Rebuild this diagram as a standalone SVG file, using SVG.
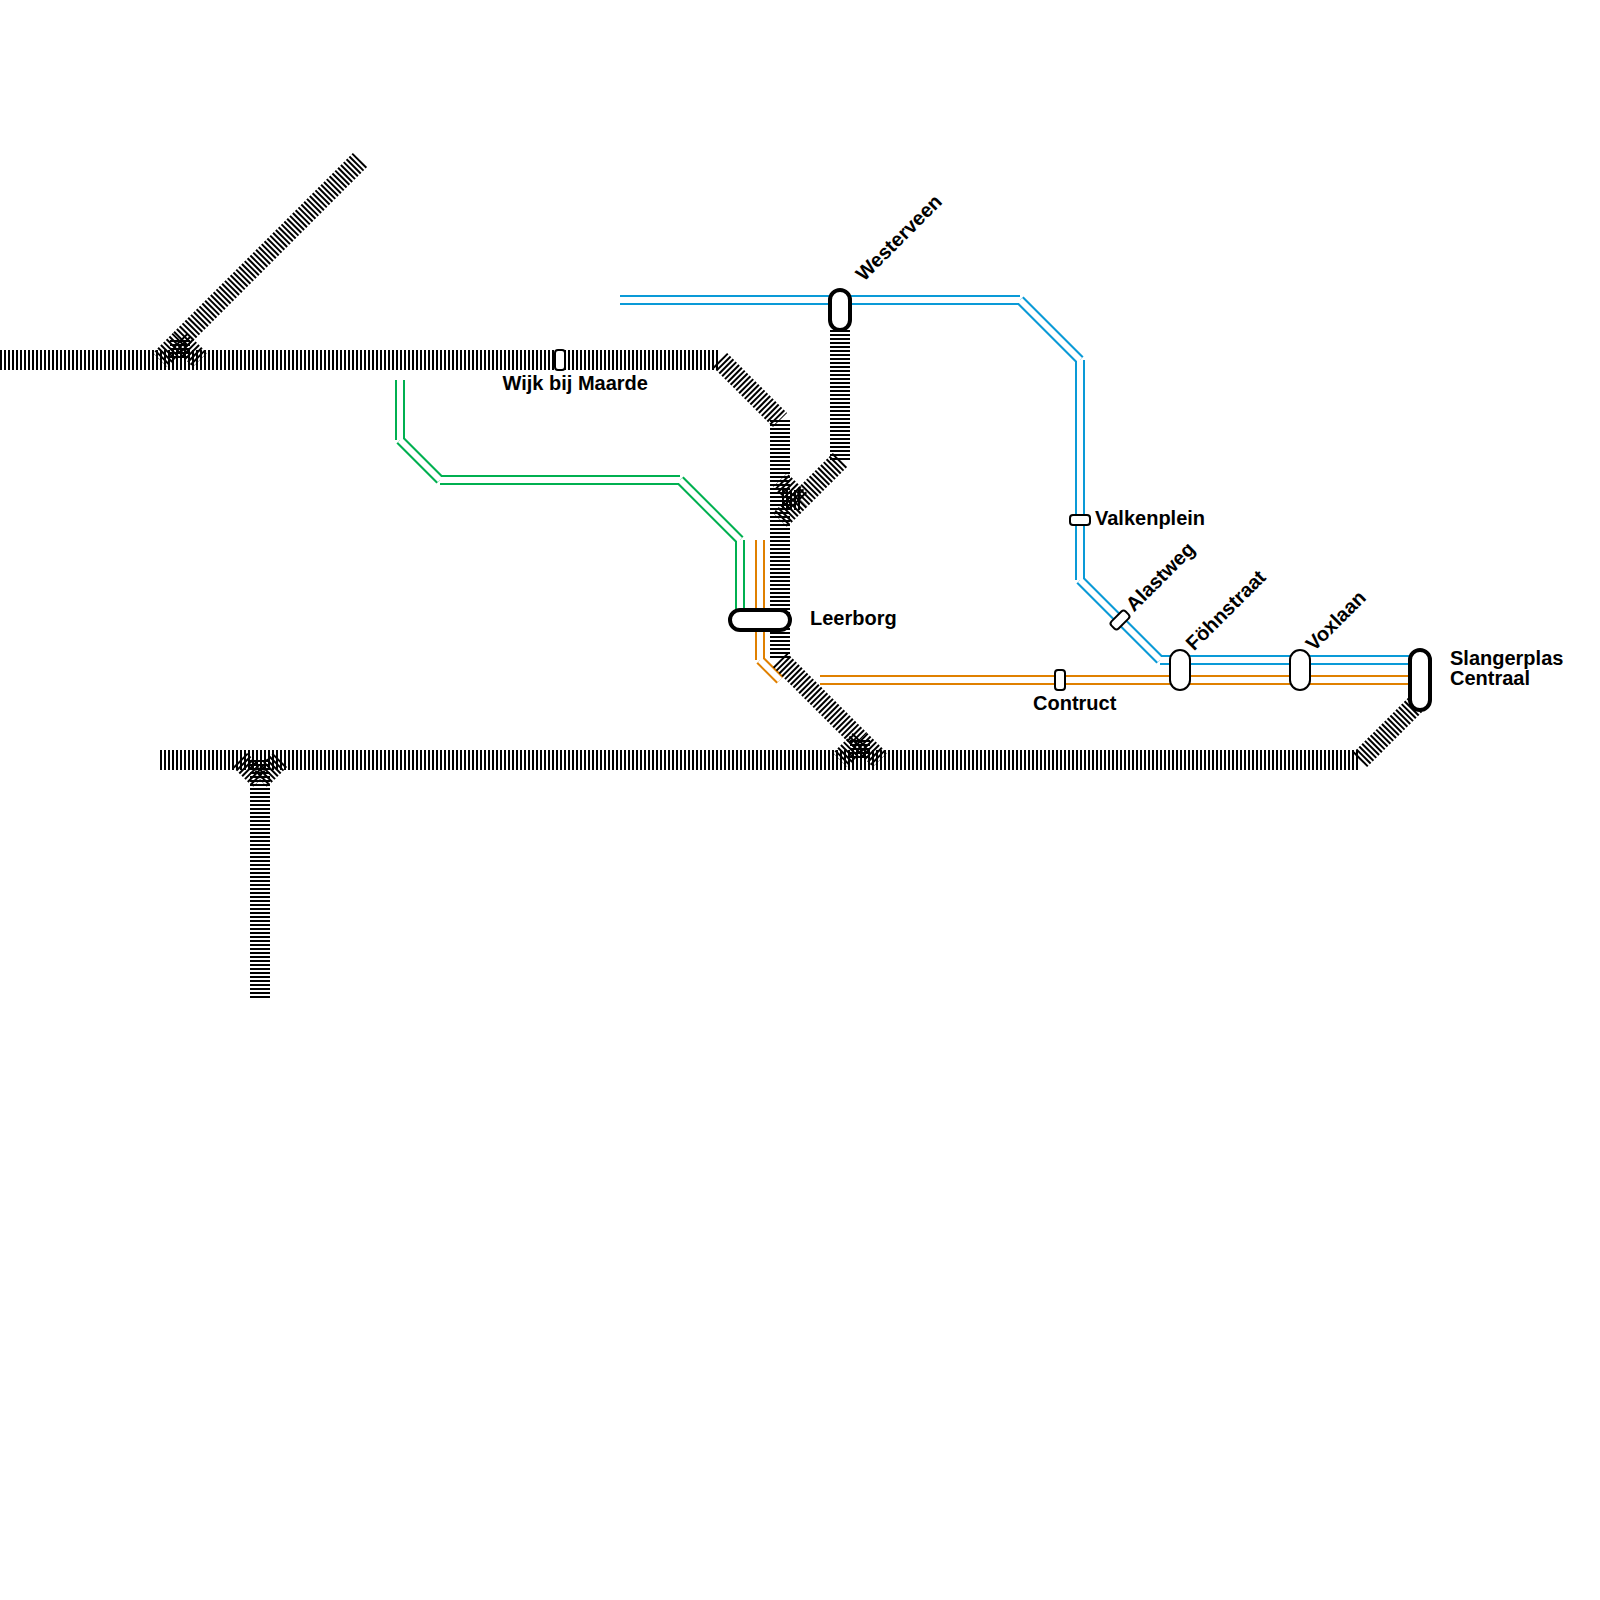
<svg xmlns="http://www.w3.org/2000/svg" width="1600" height="1600" viewBox="0 0 1600 1600">
<style>
.bk{fill:none;stroke:#000;stroke-width:20;stroke-dasharray:2 2}
.c{fill:none;stroke-width:10}
.w{fill:none;stroke:#fff;stroke-width:6}
.b{stroke:#0a9ad7}.g{stroke:#00b050}.o{stroke:#e08000}
.st{fill:#fff;stroke:#000;stroke-width:2}
.ic{fill:#fff;stroke:#000;stroke-width:4}
text{font-family:"Liberation Sans",Arial,sans-serif;font-weight:bold;font-size:20px;fill:#000}
</style>
<defs>
<g id="blue-c">
<path d="M620 300H1020"/><path d="M1020 300L1080 360"/><path d="M1080 360V580"/><path d="M1080 580L1160 660"/><path d="M1160 660H1420"/>
</g>
<g id="green-c">
<path d="M400 380V440"/><path d="M400 440L440 480"/><path d="M440 480H680"/><path d="M680 480L740 540"/><path d="M740 540V620"/>
</g>
<g id="orange-c">
<path d="M760 540V660"/><path d="M760 660L780 680"/><path d="M820 680H1420"/>
</g>
</defs>
<g id="connectors">
<use href="#green-c" class="c g"/><use href="#green-c" class="w"/>
<use href="#orange-c" class="c o"/><use href="#orange-c" class="w"/>
<use href="#blue-c" class="c b"/><use href="#blue-c" class="w"/>
<path class="bk" d="M0 360H718"/>
<path class="bk" d="M720 360L780 420"/>
<path class="bk" d="M360 160L180 340"/>
<path class="bk" d="M180 340L160 360"/>
<path class="bk" d="M180 340V360"/>
<path class="bk" d="M180 340L200 360"/>
<path class="bk" d="M780 420V660"/>
<path class="bk" d="M840 330V460"/>
<path class="bk" d="M840 460L800 500"/>
<path class="bk" d="M800 500L780 480"/>
<path class="bk" d="M800 500H780"/>
<path class="bk" d="M800 500L780 520"/>
<path class="bk" d="M780 660L860 740"/>
<path class="bk" d="M860 740L840 760"/>
<path class="bk" d="M860 740V760"/>
<path class="bk" d="M860 740L880 760"/>
<path class="bk" d="M160 760H1360"/>
<path class="bk" d="M1360 760L1420 700"/>
<path class="bk" d="M240 760L260 780"/>
<path class="bk" d="M260 760V780"/>
<path class="bk" d="M280 760L260 780"/>
<path class="bk" d="M260 780V998"/>
</g>
<g id="wijk"><rect class="st" x="555" y="350" width="10" height="20" rx="3"/><text x="502.500" y="390">Wijk bij Maarde</text></g>
<g id="westerveen"><rect class="ic" x="830" y="290" width="20" height="40" rx="10"/><text transform="translate(864 282) rotate(-45)">Westerveen</text></g>
<g id="leerborg"><rect class="ic" x="730" y="610" width="60" height="20" rx="10"/><text x="810" y="625">Leerborg</text></g>
<g id="valkenplein"><rect class="st" x="1070" y="515" width="20" height="10" rx="3"/><text x="1095" y="525">Valkenplein</text></g>
<g id="alastweg"><rect class="st" x="1110" y="615" width="20" height="10" rx="3" transform="rotate(-45 1120 620)"/><text transform="translate(1134 612.500) rotate(-45)">Alastweg</text></g>
<g id="contruct"><rect class="st" x="1055" y="670" width="10" height="20" rx="3"/><text x="1033" y="710">Contruct</text></g>
<g id="fohnstraat"><rect class="st" x="1170" y="650" width="20" height="40" rx="10"/><text transform="translate(1194 651.500) rotate(-45)">Föhnstraat</text></g>
<g id="voxlaan"><rect class="st" x="1290" y="650" width="20" height="40" rx="10"/><text transform="translate(1314 652) rotate(-45)">Voxlaan</text></g>
<g id="slangerplas"><rect class="ic" x="1410" y="650" width="20" height="60" rx="10"/><text x="1450" y="665">Slangerplas</text><text x="1450" y="685">Centraal</text></g>
</svg>
